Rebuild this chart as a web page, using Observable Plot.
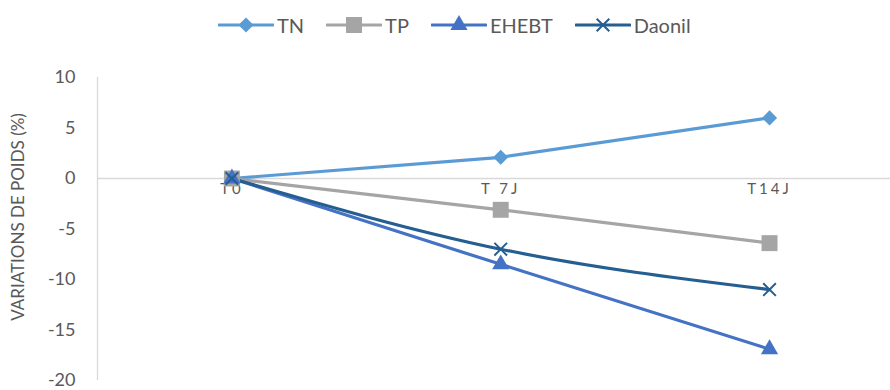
<!DOCTYPE html>
<html><head><meta charset="utf-8">
<script src="https://cdn.jsdelivr.net/npm/d3@7"></script>
<script src="https://cdn.jsdelivr.net/npm/@observablehq/plot@0.6"></script>
<style>
body{margin:0;background:#fff;font-family:Lato,"Open Sans",sans-serif;}
#legend{height:50px;display:flex;align-items:center;padding-left:218px;box-sizing:border-box;color:#595959;font-size:20px;}
.item{display:flex;align-items:center;margin-right:22px;}
.item svg{margin-right:3px;}
#chart g.cat text{letter-spacing:3px;}
</style></head>
<body>
<div id="legend"></div>
<div id="chart"></div>
<script>
const categories = ["T0", "T 7J", "T14J"];
const seriesNames = ["TN", "TP", "EHEBT", "Daonil"];
const tn = [0, 2.1, 6.0];
const tp = [0, -3.1, -6.4];
const ehebt = [0, -8.5, -16.9];
const daonil = [0, -7.0, -11.0];
const yTicks = [10, 5, 0, -5, -10, -15, -20];

const colors = {TN:"#5B9BD5", TP:"#A5A5A5", EHEBT:"#4472C4", Daonil:"#255E91"};
const symbols = {TN:"diamond2", TP:"square", EHEBT:"triangle", Daonil:"times"};
const sizes = {TN:6.8, TP:9, EHEBT:6.4, Daonil:5.8};
const valuesBy = {TN:tn, TP:tp, EHEBT:ehebt, Daonil:daonil};

const data = seriesNames.flatMap(s => valuesBy[s].map((v,i)=>({s, i, v})));
const xDomain = [-0.5, 2.45];

const marks = [
  Plot.ruleY([0], {stroke:"#d9d9d9", strokeWidth:1.3}),
  Plot.ruleX([xDomain[0]], {stroke:"#d9d9d9", strokeWidth:1.3}),
  Plot.axisY({ticks: yTicks, tickSize:0, tickPadding:22, fontSize:18, fill:"#595959",
    tickFormat: d => String(d),
    label:null}),
  Plot.text(categories, {x:(d,i)=>i, y:()=>0, text:d=>d, dy:11, fontSize:15, fill:"#595959", className:"cat"}),
];
for (const s of seriesNames) {
  const d = data.filter(e=>e.s===s);
  marks.push(Plot.line(d, {x:"i", y:"v", stroke:colors[s], strokeWidth:3.2,
    curve: s==="Daonil" ? "monotone-x" : "linear"}));
}
for (const s of seriesNames) {
  const d = data.filter(e=>e.s===s);
  if (s==="Daonil") {
    marks.push(Plot.dot(d, {x:"i", y:"v", symbol:"times", r:sizes[s], stroke:colors[s], strokeWidth:2}));
  } else {
    marks.push(Plot.dot(d, {x:"i", y:"v", symbol:symbols[s], r:sizes[s], fill:colors[s], stroke:"none"}));
  }
}

const chart = Plot.plot({
  width:890, height:340,
  marginLeft:97, marginRight:0, marginTop:27, marginBottom:10,
  style:{fontFamily:"Lato, 'Open Sans', sans-serif", color:"#595959", background:"#fff", overflow:"visible"},
  x:{type:"linear", domain:xDomain, axis:null},
  y:{domain:[-20,10], axis:null},
  marks
});
// y-axis title
const svgSel = d3.select(chart);
svgSel.append("text")
  .attr("transform", "translate(24,167) rotate(-90)")
  .attr("text-anchor","middle")
  .attr("fill","#595959")
  .attr("font-size",17)
  .text("VARIATIONS DE POIDS (%)");
document.getElementById("chart").appendChild(chart);

// legend
const leg = document.getElementById("legend");
for (const s of seriesNames) {
  const item = document.createElement("div");
  item.className = "item";
  const svg = d3.create("svg").attr("width",56).attr("height",20);
  svg.append("line").attr("x1",1).attr("x2",55).attr("y1",10).attr("y2",10)
    .attr("stroke",colors[s]).attr("stroke-width",3.2).attr("stroke-linecap","round");
  const sym = {diamond2:d3.symbolDiamond2, square:d3.symbolSquare, triangle:d3.symbolTriangle, times:d3.symbolTimes}[symbols[s]];
  const p = svg.append("path").attr("transform","translate(28,10)")
    .attr("d", d3.symbol(sym, Math.PI*sizes[s]*sizes[s])());
  if (s==="Daonil") p.attr("fill","none").attr("stroke",colors[s]).attr("stroke-width",2);
  else p.attr("fill",colors[s]);
  item.appendChild(svg.node());
  const t = document.createElement("span");
  t.textContent = s;
  item.appendChild(t);
  leg.appendChild(item);
}
</script>
</body></html>
